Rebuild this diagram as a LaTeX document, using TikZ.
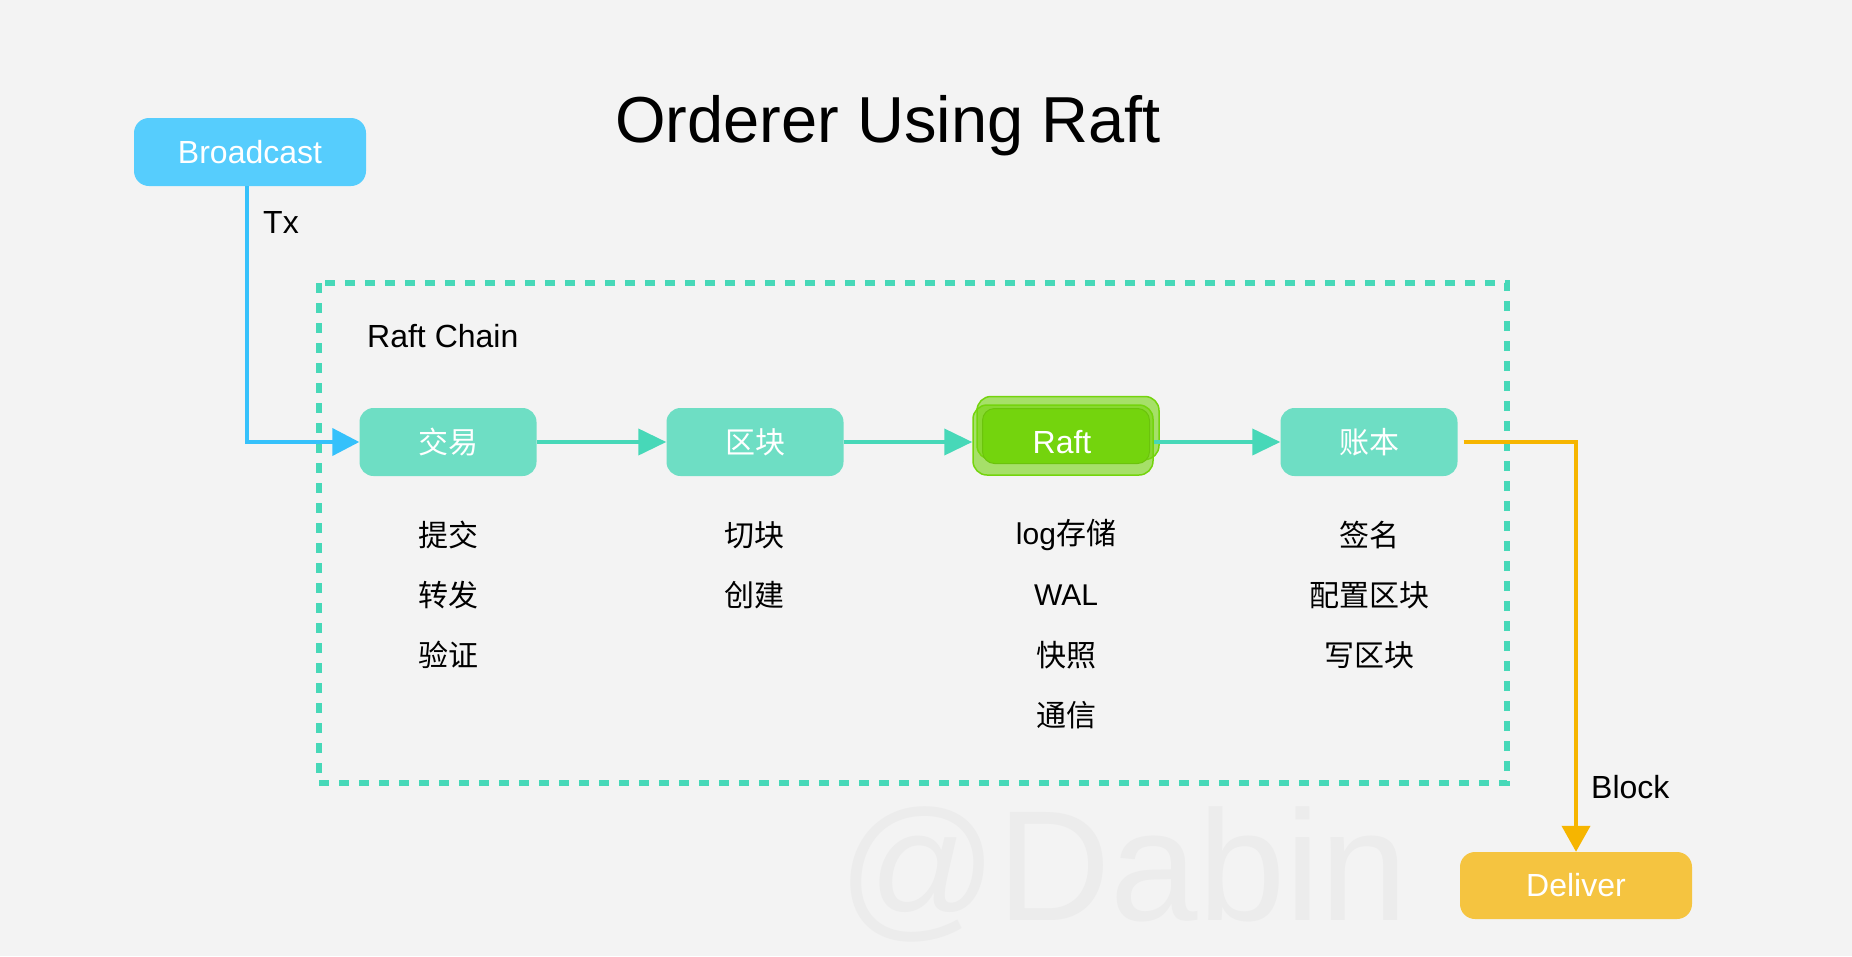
\documentclass[tikz,border=0pt]{standalone}
\usepackage{fontspec}
\setmainfont{Liberation Sans}
\newfontfamily\cjk{Noto Sans CJK SC}
\usetikzlibrary{arrows.meta, positioning}

\definecolor{bgcolor}{HTML}{F3F3F3}
\definecolor{skyblue}{HTML}{56CDFD}
\definecolor{skyline}{HTML}{35C1FB}
\definecolor{mintbox}{HTML}{6EDEC4}
\definecolor{mintline}{HTML}{47D8B8}
\definecolor{raftgreen}{HTML}{74D40D}
\definecolor{amberline}{HTML}{F6B500}
\definecolor{amberbox}{HTML}{F5C440}
\definecolor{markgray}{HTML}{ECECEC}

\tikzset{
  stagebox/.style={rectangle, rounded corners=14pt, fill=mintbox, text=white,
    minimum width=177pt, minimum height=68pt, inner sep=0pt,
    font=\fontsize{30}{36}\selectfont\cjk},
  endbox/.style={rectangle, rounded corners=15pt, text=white,
    minimum width=232pt, inner sep=0pt, font=\fontsize{32}{38}\selectfont},
  raftbox/.style={rectangle, rounded corners=14pt, draw=raftgreen, line width=1.5pt,
    fill=raftgreen, fill opacity=0.6, inner sep=0pt},
  note/.style={font=\fontsize{30}{36}\selectfont\cjk, inner sep=0pt},
  tag/.style={font=\fontsize{32}{38}\selectfont, inner sep=0pt, anchor=base west},
  flow/.style={-{Triangle[length=28pt,width=26pt]}, line width=4pt, draw=mintline},
}

\begin{document}
\begin{tikzpicture}[x=1pt, y=-1pt]
\useasboundingbox (0,0) rectangle (1852,956);
\fill[bgcolor] (0,0) rectangle (1852,956);

% Watermark and title
\node[anchor=base west, inner sep=0pt, text=markgray, font=\fontsize{157}{160}\selectfont]
    (mark) at (838,920) {@Dabin};
\node[anchor=base, inner sep=0pt, font=\fontsize{65}{70}\selectfont]
    (title) at (888,142) {Orderer Using Raft};

% Raft chain frame
\draw[mintline, line width=6pt, dash pattern=on 10pt off 10pt] (319,283) rectangle (1507,783);
\node[tag] (chainlabel) at (367,347) {Raft Chain};

% Entry and exit
\node[endbox, fill=skyblue, minimum height=68pt] (broadcast) at (250,152) {Broadcast};
\node[endbox, fill=amberbox, minimum height=67pt] (deliver) at (1576,885.5) {Deliver};

% Stages
\node[stagebox] (tx) at (448,442) {交易};
\node[stagebox] (block) at (755,442) {区块};
\node[stagebox] (ledger) at (1369,442) {账本};

% Stacked Raft node
\node[raftbox, minimum width=182pt, minimum height=63pt] (raftback) at (1068,428) {};
\node[raftbox, minimum width=180pt, minimum height=70pt] (raft) at (1063,440) {};
\node[rectangle, rounded corners=12pt, fill=raftgreen, draw=raftgreen!92!black, line width=1pt,
    minimum width=167pt, minimum height=55pt] (raftcore) at (1066,436) {};
\node[text=white, inner sep=0pt, font=\fontsize{32}{38}\selectfont] (rafttext) at (1062,442) {Raft};

% Flow between stages
\draw[flow] (tx.east) -- (block.west);
\draw[flow] (block.east) -- (raft.west |- block.east);
\draw[flow] (raft.east |- ledger.west) -- (ledger.west);

% Tx in, Block out
\draw[skyline, line width=4pt, -{Triangle[length=27pt,width=27pt]}]
    ([xshift=-3pt]broadcast.south) |- (tx.west);
\node[tag] (txlabel) at (263,233) {Tx};
\draw[amberline, line width=4pt, -{Triangle[length=26pt,width=28pt]}]
    ([xshift=6pt]ledger.east) -| (deliver.north);
\node[tag] (blocklabel) at (1591,798) {Block};

% Stage duties
\foreach \t [count=\i] in {提交,转发,验证}
    \node[note] (txnote\i) at (448,475+60*\i) {\t};
\foreach \t [count=\i] in {切块,创建}
    \node[note] (blocknote\i) at (754,475+60*\i) {\t};
\foreach \t [count=\i] in {{{\rmfamily log}存储},{\rmfamily WAL},快照,通信}
    \node[note] (raftnote\i) at (1066,475+60*\i) {\t};
\foreach \t [count=\i] in {签名,配置区块,写区块}
    \node[note] (ledgernote\i) at (1369,475+60*\i) {\t};
\end{tikzpicture}
\end{document}
